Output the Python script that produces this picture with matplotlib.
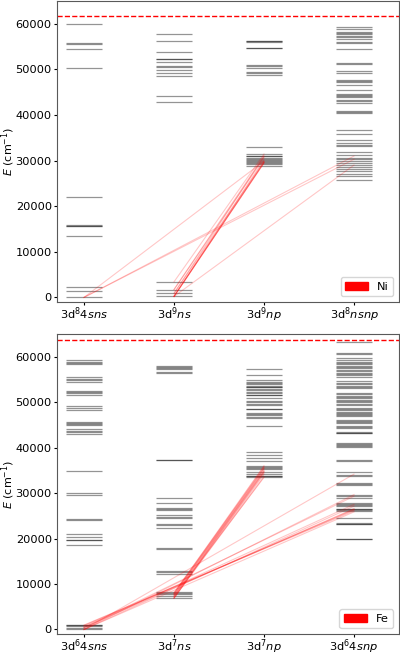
import matplotlib
matplotlib.use("Agg")
import matplotlib.pyplot as plt
from matplotlib.patches import Patch

# --- Ni I levels (cm^-1) per configuration column ---
ni_labels = [r"3d$^8$4$sns$", r"3d$^9$$ns$", r"3d$^9$$np$", r"3d$^8$$nsnp$"]
ni_sns = [0, 1330, 2220, 13520, 15610, 15730, 15800, 22100,
          50400, 54400, 55600, 55800, 60000]
ni_ns = [205, 880, 1713, 3410, 42770, 44230, 48590, 49250, 49970, 50600,
         50700, 51710, 52300, 52370, 53890, 56160, 57690]
ni_np = [28740, 29320, 29480, 29670, 29830, 30190, 30400, 30620, 30920,
         31030, 31440, 32980, 48800, 49100, 49400, 50400, 50650, 50900,
         54600, 54700, 56100, 56160, 56250]
ni_nsnp = [25750, 26620, 27000, 27710, 28100, 28500, 29020, 29390, 29900,
           30260, 30630, 31140, 31950, 33170, 33500, 33900, 34480, 35870,
           36810, 40450, 40700, 40960, 42640, 43000, 43360, 43940, 44200,
           44400, 44600, 45540, 46630, 47200, 47400, 47720, 49200, 49700,
           51200, 51500, 54420, 55730, 56000, 56600, 57110, 57400, 57700,
           57970, 58260, 58900, 59220]
ni_ip = 61619
# transitions: (lower column, lower E, upper column, upper E)
ni_trans = [(0, 0, 2, 29900), (0, 0, 3, 31000), (0, 0, 3, 30300),
            (1, 205, 3, 29020), (1, 205, 2, 29480), (1, 205, 2, 29500),
            (1, 300, 2, 29600), (1, 205, 2, 29670), (1, 205, 2, 30190),
            (1, 880, 2, 29830), (1, 880, 2, 30920), (1, 1713, 2, 30620),
            (1, 1713, 2, 31030), (1, 3410, 2, 31440)]

# --- Fe I levels ---
fe_labels = [r"3d$^6$4$sns$", r"3d$^7$$ns$", r"3d$^7$$np$", r"3d$^6$4$snp$"]
fe_sns = [0, 416, 704, 888, 978, 18570, 19660, 19800, 20400, 20980,
          24040, 24390, 29720, 30070, 34900, 43110, 43430, 43630, 44050,
          45010, 45220, 45500, 45730, 48420, 48700, 49300, 51700, 52000,
          52300, 52570, 54620, 54900, 55200, 55560, 58400, 58700, 59000,
          59340]
fe_ns = [6928, 7377, 7728, 7986, 8155, 12150, 12560, 12970, 17830, 17850,
         22350, 23110, 23200, 24540, 24780, 25130, 26350, 26550, 26720,
         27810, 28900, 37280, 37320, 56440, 56810, 57380, 57600, 57900,
         58120]
fe_np = [33500, 33700, 33900, 34220, 34740, 35310, 35500, 35700, 36050,
         37150, 37720, 38460, 39180, 44790, 46600, 46900, 47200, 47450,
         47700, 48570, 48600, 49510, 49750, 50000, 50250, 50980, 51570,
         51600, 52070, 52400, 52700, 53000, 53300, 53500, 53700, 54000,
         54300, 54600, 54970, 56150, 57310]
fe_snp = [19880, 19950, 23200, 23290, 23400, 24540, 26140, 26340, 26480,
          26620, 27170, 27400, 27560, 27810, 29060, 29360, 29730, 31800,
          32130, 32180, 33700, 34120, 34590, 37160, 37360, 40230, 40420,
          40600, 40900, 41140, 43180, 43350, 43550, 44420, 44600, 44790,
          45510, 45700, 45900, 46100, 46980, 47200, 47450, 47700, 48000,
          48300, 48500, 48790, 49510, 49700, 50000, 50300, 50600, 50900,
          51200, 51500, 51800, 52070, 53160, 53400, 53700, 54000, 54300,
          54630, 55720, 56000, 56300, 56600, 56900, 57200, 57500, 57800,
          58100, 58400, 58700, 59000, 59300, 59720, 60700, 60810, 63370]
fe_ip = 63737
fe_trans = [(0, 0, 3, 34220), (0, 0, 3, 29710), (0, 416, 3, 29360),
            (0, 0, 3, 27170), (0, 416, 3, 27560), (0, 416, 3, 26620),
            (0, 704, 3, 26480), (0, 888, 3, 26340), (0, 0, 3, 25900),
            (0, 978, 3, 26140),
            (1, 6928, 2, 33700), (1, 6928, 2, 34200), (1, 6928, 2, 35300),
            (1, 7377, 2, 34500), (1, 7377, 2, 35600), (1, 7728, 2, 34800),
            (1, 7728, 2, 35900), (1, 7986, 2, 35000), (1, 7986, 2, 36050),
            (1, 8155, 2, 35500), (1, 7377, 2, 33500), (1, 6928, 2, 34740)]

FS = 8.2


def draw_panel(ax, columns, labels, trans, ip, name):
    for i, levels in enumerate(columns):
        ax.hlines(levels, i - 0.2, i + 0.2, color="k", alpha=0.42, lw=0.9)
    for c0, e0, c1, e1 in trans:
        ax.plot([c0, c1], [e0, e1], color="red", alpha=0.22, lw=0.8)
    ax.axhline(ip, color="red", ls="--", lw=1.0)
    ax.set_xlim(-0.3, 3.5)
    ax.set_ylim(-1000, 65000)
    ax.set_xticks(range(len(labels)))
    ax.set_xticklabels(labels, fontsize=FS)
    ax.set_yticks([0, 10000, 20000, 30000, 40000, 50000, 60000])
    ax.tick_params(axis="y", labelsize=FS, length=2.5, pad=1.2)
    ax.tick_params(axis="x", length=2.2, pad=0.3)
    ax.set_ylabel(r"$E$ (cm$^{-1}$)", fontsize=8)
    ax.yaxis.set_label_coords(-0.116, 0.5)
    for sp in ax.spines.values():
        sp.set_color("0.35")
    ax.legend(handles=[Patch(color="red", label=name)], loc="lower right",
              fontsize=FS)


fig = plt.figure(figsize=(4.0, 6.55), dpi=100)
ax1 = fig.add_axes([0.1425, 0.539, 0.855, 0.4595])
ax2 = fig.add_axes([0.1425, 0.032, 0.855, 0.4575])

draw_panel(ax1, [ni_sns, ni_ns, ni_np, ni_nsnp], ni_labels, ni_trans, ni_ip, "Ni")
draw_panel(ax2, [fe_sns, fe_ns, fe_np, fe_snp], fe_labels, fe_trans, fe_ip, "Fe")

fig.savefig("out.png", dpi=100)
